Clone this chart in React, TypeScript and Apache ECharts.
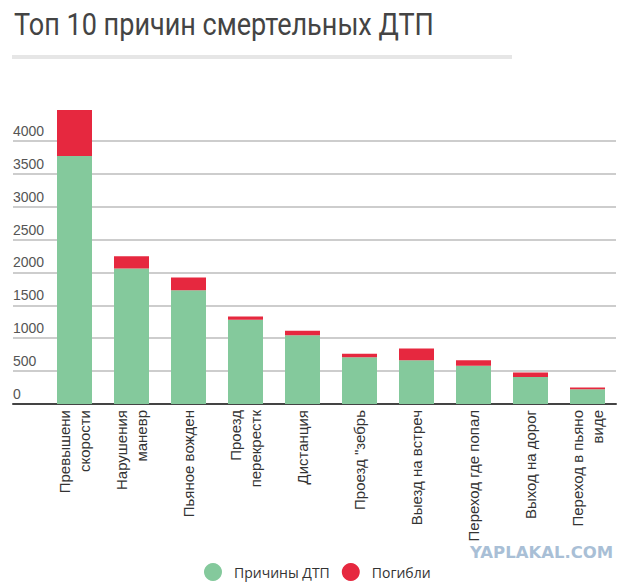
import React, { useEffect, useRef } from "react";
import * as echarts from "echarts";

const categories = [
  "Превышени\nскорости",
  "Нарушения\nманевр",
  "Пьяное вожден",
  "Проезд\nперекрестк",
  "Дистанция",
  "Проезд \"зебрь",
  "Выезд на встреч",
  "Переход где попал",
  "Выход на дорог",
  "Переход в пьяно\nвиде",
];
const causes = [3770, 2060, 1730, 1280, 1045, 710, 665, 580, 410, 225];
const deaths = [700, 185, 195, 50, 70, 55, 180, 85, 70, 25];
const seriesNames = ["Причины ДТП", "Погибли"];
const titleText = "Топ 10 причин смертельных ДТП";
const watermark = "YAPLAKAL.COM";

const GREEN = "#84c99c";
const RED = "#e6283f";

export default function App() {
  const ref = useRef<HTMLDivElement>(null);
  useEffect(() => {
    if (!ref.current) return;
    const chart = echarts.init(ref.current, undefined, { renderer: "svg" });
    const top = 108;
    const bottom = 181;
    chart.setOption({
      animation: false,
      backgroundColor: "#ffffff",
      graphic: [
        {
          type: "text",
          x: 14,
          y: 8,
          scaleX: 0.845,
          style: {
            text: titleText,
            fontFamily: "Roboto",
            fontSize: 32,
            fontWeight: "normal",
            fill: "#444444",
          },
        },
        {
          type: "rect",
          shape: { x: 12, y: 55, width: 500, height: 4 },
          style: { fill: "#e6e6e6" },
        },
        {
          type: "text",
          x: 470,
          y: 545,
          scaleX: 1.1,
          style: {
            text: watermark,
            fontFamily: "DejaVu Sans",
            fontWeight: "bold",
            fontSize: 15,
            fill: "#a9bfd6",
          },
        },
      ],
      legend: {
        left: 199,
        top: 558,
        icon: "circle",
        itemWidth: 18,
        itemHeight: 18,
        itemGap: 12,
        data: seriesNames,
        textStyle: {
          fontFamily: "Open Sans",
          fontSize: 14,
          color: "#333333",
          padding: [0, 0, 0, 7],
        },
      },
      grid: [
        { left: 13, right: 14, top, bottom },
        { left: 46, right: 14, top, bottom },
      ],
      xAxis: [
        {
          type: "category",
          gridIndex: 0,
          data: categories,
          axisLine: { show: true, lineStyle: { color: "#444444", width: 2 } },
          axisTick: { show: false },
          axisLabel: { show: false },
        },
        {
          type: "category",
          gridIndex: 1,
          data: categories,
          axisLine: { show: false },
          axisTick: { show: false },
          axisLabel: {
            rotate: 90,
            margin: 6,
            fontFamily: "Liberation Sans",
            fontSize: 15,
            lineHeight: 20,
            color: "#333333",
            interval: 0,
          },
        },
      ],
      yAxis: [
        {
          type: "value",
          gridIndex: 0,
          min: 0,
          max: 4500,
          interval: 500,
          axisLine: { show: false },
          axisTick: { show: false },
          splitLine: {
            show: true,
            showMinLine: false,
            showMaxLine: false,
            lineStyle: { color: "#bdbdbd", width: 1.5 },
          },
          axisLabel: {
            inside: true,
            margin: 0,
            showMaxLabel: false,
            verticalAlign: "bottom",
            padding: [0, 0, 3, 0],
            fontFamily: "Liberation Sans",
            fontSize: 14,
            color: "#555555",
            formatter: (v: number) => String(v),
          },
        },
        {
          type: "value",
          gridIndex: 1,
          min: 0,
          max: 4500,
          interval: 500,
          show: false,
          splitLine: { show: false },
        },
      ],
      series: [
        {
          name: seriesNames[0],
          type: "bar",
          stack: "total",
          xAxisIndex: 1,
          yAxisIndex: 1,
          barWidth: 35,
          itemStyle: { color: GREEN },
          data: causes,
        },
        {
          name: seriesNames[1],
          type: "bar",
          stack: "total",
          xAxisIndex: 1,
          yAxisIndex: 1,
          barWidth: 35,
          itemStyle: { color: RED },
          data: deaths,
        },
      ],
    });
    return () => chart.dispose();
  }, []);
  return (
    <div
      ref={ref}
      style={{ position: "fixed", left: 0, top: 0, width: 630, height: 585 }}
    />
  );
}
